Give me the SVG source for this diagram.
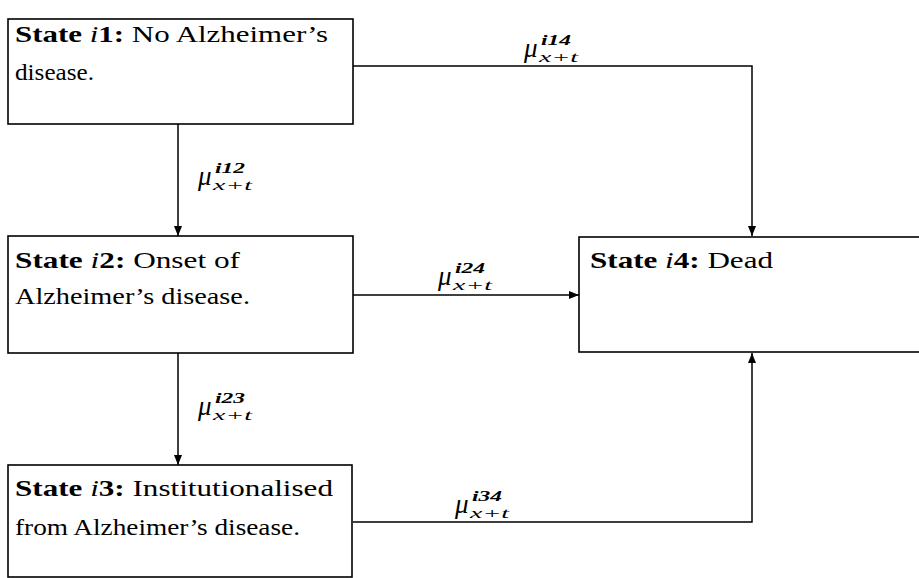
<svg xmlns="http://www.w3.org/2000/svg" width="919" height="578" viewBox="0 0 919 578">
<style>
.box{fill:#fff;stroke:#000;stroke-width:1.6}
.t{font-family:"Liberation Serif","DejaVu Serif",serif;font-size:23px;fill:#000}
.b{font-weight:bold}
.i{font-style:italic}
.mu{font-family:"Liberation Serif","DejaVu Serif",serif;font-size:27px;font-style:italic;fill:#000}
.sup{font-family:"Liberation Serif","DejaVu Serif",serif;font-size:14px;font-style:italic;font-weight:bold;fill:#000}
.sub{font-family:"Liberation Serif","DejaVu Serif",serif;font-size:15px;font-style:italic;fill:#000}
.c{fill:none;stroke:#000;stroke-width:1.5}
</style>
<defs>
<marker id="ah" viewBox="0 0 10 8" refX="10" refY="4" markerWidth="10" markerHeight="8" markerUnits="userSpaceOnUse" orient="auto">
<path d="M0,0 L10,4 L0,8 z" fill="#000"/>
</marker>
</defs>
<rect width="919" height="578" fill="#fff"/>
<g id="connectors">
<path class="c" d="M353,66 H752 V236" marker-end="url(#ah)"/>
<path class="c" d="M178,124 V236" marker-end="url(#ah)"/>
<path class="c" d="M353,295 H579" marker-end="url(#ah)"/>
<path class="c" d="M178,353 V465" marker-end="url(#ah)"/>
<path class="c" d="M353,522 H752 V353" marker-end="url(#ah)"/>
<g id="label-i14">
<text class="mu" x="524" y="57">μ</text>
<text class="sup" x="541" y="45" textLength="30" lengthAdjust="spacingAndGlyphs">i14</text>
<text class="sub" x="539" y="62" textLength="39" lengthAdjust="spacingAndGlyphs">x+t</text>
</g>
<g id="label-i12">
<text class="mu" x="198" y="185">μ</text>
<text class="sup" x="215" y="173" textLength="30" lengthAdjust="spacingAndGlyphs">i12</text>
<text class="sub" x="213" y="190" textLength="39" lengthAdjust="spacingAndGlyphs">x+t</text>
</g>
<g id="label-i24">
<text class="mu" x="438" y="285">μ</text>
<text class="sup" x="455" y="273" textLength="30" lengthAdjust="spacingAndGlyphs">i24</text>
<text class="sub" x="453" y="290" textLength="39" lengthAdjust="spacingAndGlyphs">x+t</text>
</g>
<g id="label-i23">
<text class="mu" x="198" y="415">μ</text>
<text class="sup" x="215" y="403" textLength="30" lengthAdjust="spacingAndGlyphs">i23</text>
<text class="sub" x="213" y="420" textLength="39" lengthAdjust="spacingAndGlyphs">x+t</text>
</g>
<g id="label-i34">
<text class="mu" x="455" y="513">μ</text>
<text class="sup" x="472" y="501" textLength="30" lengthAdjust="spacingAndGlyphs">i34</text>
<text class="sub" x="470" y="518" textLength="39" lengthAdjust="spacingAndGlyphs">x+t</text>
</g>
</g>
<g id="state-i1">
<rect class="box" x="8" y="19" width="345" height="105"/>
<text class="t" x="15" y="42" textLength="313" lengthAdjust="spacingAndGlyphs"><tspan class="b">State </tspan><tspan class="i">i</tspan><tspan class="b">1:</tspan> No Alzheimer’s</text>
<text class="t" x="15" y="80" textLength="79" lengthAdjust="spacingAndGlyphs">disease.</text>
</g>
<g id="state-i2">
<rect class="box" x="8" y="236" width="345" height="117"/>
<text class="t" x="15" y="268" textLength="225" lengthAdjust="spacingAndGlyphs"><tspan class="b">State </tspan><tspan class="i">i</tspan><tspan class="b">2:</tspan> Onset of</text>
<text class="t" x="15" y="304" textLength="235" lengthAdjust="spacingAndGlyphs">Alzheimer’s disease.</text>
</g>
<g id="state-i3">
<rect class="box" x="8" y="465" width="344" height="112"/>
<text class="t" x="15" y="496" textLength="318" lengthAdjust="spacingAndGlyphs"><tspan class="b">State </tspan><tspan class="i">i</tspan><tspan class="b">3:</tspan> Institutionalised</text>
<text class="t" x="15" y="535" textLength="285" lengthAdjust="spacingAndGlyphs">from Alzheimer’s disease.</text>
</g>
<g id="state-i4">
<rect class="box" x="579" y="237" width="360" height="115"/>
<text class="t" x="590" y="268" textLength="183" lengthAdjust="spacingAndGlyphs"><tspan class="b">State </tspan><tspan class="i">i</tspan><tspan class="b">4:</tspan> Dead</text>
</g>
</svg>
